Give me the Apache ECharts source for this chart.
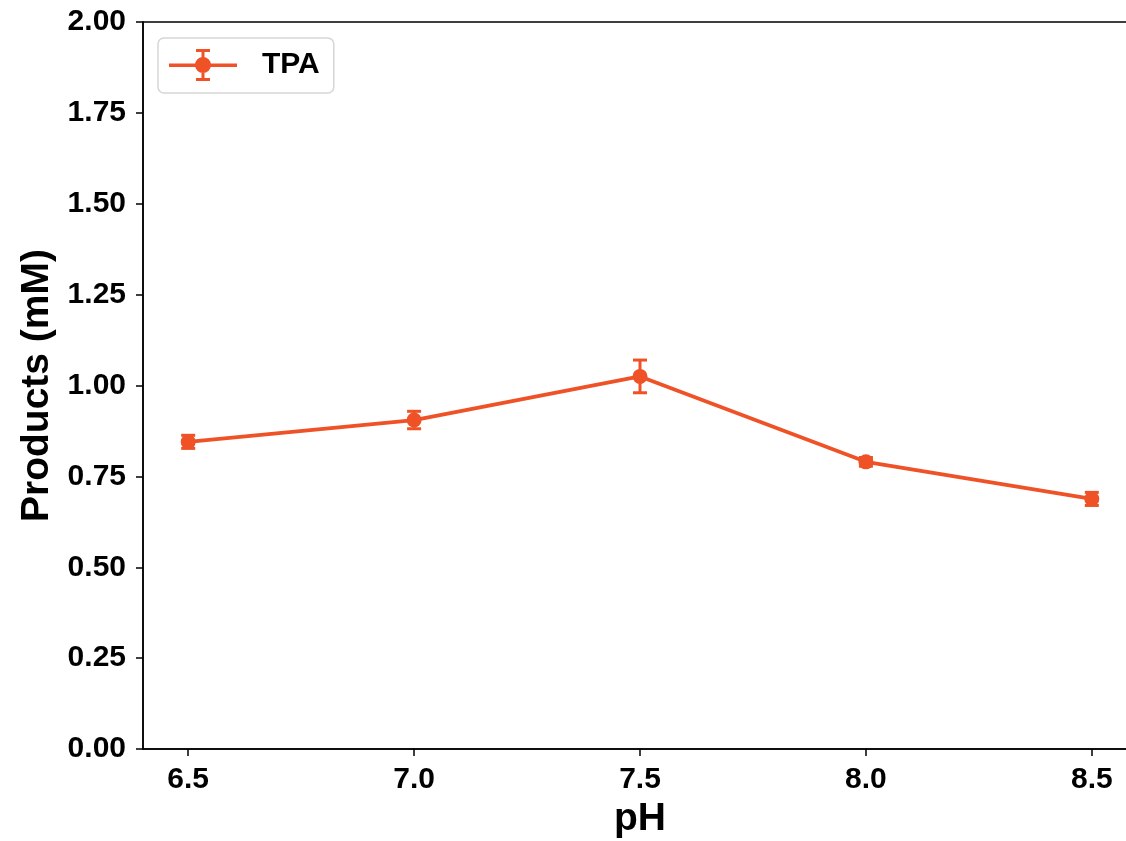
<!DOCTYPE html>
<html>
<head>
<meta charset="utf-8">
<script src="https://cdn.jsdelivr.net/npm/echarts@6/dist/echarts.min.js"></script>
<style>
  html, body { margin: 0; padding: 0; background: #ffffff; overflow: hidden; }
  /* the plot frame runs a little past the right edge of the page */
  #chart { width: 1140px; height: 841px; }
</style>
</head>
<body>
<div id="chart"></div>
<script>
// pH values, TPA product concentration (mM) and standard deviation
const phValues = [6.5, 7.0, 7.5, 8.0, 8.5];
const tpaMean = [0.845, 0.905, 1.025, 0.790, 0.688];
const tpaErr = [0.018, 0.024, 0.045, 0.012, 0.018];
const yTicks = [0, 0.25, 0.5, 0.75, 1.0, 1.25, 1.5, 1.75, 2.0];

const LINE_COLOR = '#EE5226';
const FONT = '"Liberation Sans", Arial, Helvetica, sans-serif';

const lineData = phValues.map((x, i) => [x, tpaMean[i]]);
const errData = phValues.map((x, i) => [x, tpaMean[i] - tpaErr[i], tpaMean[i] + tpaErr[i]]);

// legend glyph: line with marker and capped error bar
const legendIcon = 'path://' +
  'M0 14.5h68v3.5h-68Z' +
  'M32.5 1h3v30h-3Z' +
  'M27 0h14v3h-14Z' +
  'M27 29h14v3h-14Z' +
  'M26 16A8 8 0 1 1 42 16A8 8 0 1 1 26 16Z';

const chart = echarts.init(document.getElementById('chart'), null, { renderer: 'canvas' });

chart.setOption({
  backgroundColor: '#ffffff',
  animation: false,
  grid: {
    left: 143, right: 3, top: 22, bottom: 92,
    outerBoundsMode: 'none', containLabel: false,
    show: true, borderColor: '#000', borderWidth: 1.5, backgroundColor: 'transparent'
  },
  legend: {
    left: 158, top: 38,
    padding: [11, 14, 12, 11],
    itemWidth: 68, itemHeight: 32,
    icon: legendIcon,
    borderColor: '#d6d6d6', borderWidth: 1.5, borderRadius: 6,
    backgroundColor: '#fff',
    textStyle: { fontFamily: FONT, fontWeight: 'bold', fontSize: 30, color: '#000', padding: [0, 0, 0, 20] },
    data: [{ name: 'TPA', itemStyle: { color: LINE_COLOR } }]
  },
  xAxis: {
    type: 'value', min: 6.4, max: 8.6,
    name: 'pH', nameLocation: 'middle', nameGap: 50,
    nameTextStyle: { fontFamily: FONT, fontWeight: 'bold', fontSize: 39, color: '#000' },
    axisLine: { lineStyle: { color: '#000', width: 1.5 } },
    axisTick: { show: true, length: 7, customValues: phValues, lineStyle: { color: '#000', width: 1.5 } },
    axisLabel: {
      customValues: phValues, margin: 16,
      fontFamily: FONT, fontWeight: 'bold', fontSize: 30, color: '#000',
      formatter: v => v.toFixed(1)
    },
    splitLine: { show: false }
  },
  yAxis: {
    type: 'value', min: 0, max: 2,
    name: 'Products (mM)', nameLocation: 'middle', nameGap: 85,
    nameTextStyle: { fontFamily: FONT, fontWeight: 'bold', fontSize: 39, color: '#000' },
    axisLine: { show: true, lineStyle: { color: '#000', width: 1.5 } },
    axisTick: { show: true, length: 7, customValues: yTicks, lineStyle: { color: '#000', width: 1.5 } },
    axisLabel: {
      customValues: yTicks, margin: 17,
      fontFamily: FONT, fontWeight: 'bold', fontSize: 30, color: '#000',
      formatter: v => v.toFixed(2)
    },
    splitLine: { show: false }
  },
  series: [
    {
      name: 'TPA',
      type: 'line',
      data: lineData,
      symbol: 'circle', symbolSize: 15,
      lineStyle: { color: LINE_COLOR, width: 3.8 },
      itemStyle: { color: LINE_COLOR },
      z: 3
    },
    {
      name: 'TPA err',
      type: 'custom',
      data: errData,
      z: 4,
      renderItem: function (params, api) {
        const x = api.value(0);
        const lo = api.coord([x, api.value(1)]);
        const hi = api.coord([x, api.value(2)]);
        const cap = 7;
        const style = { stroke: LINE_COLOR, lineWidth: 3 };
        return {
          type: 'group',
          children: [
            { type: 'line', shape: { x1: lo[0], y1: lo[1], x2: hi[0], y2: hi[1] }, style },
            { type: 'line', shape: { x1: hi[0] - cap, y1: hi[1], x2: hi[0] + cap, y2: hi[1] }, style },
            { type: 'line', shape: { x1: lo[0] - cap, y1: lo[1], x2: lo[0] + cap, y2: lo[1] }, style }
          ]
        };
      }
    }
  ]
});
</script>
</body>
</html>
